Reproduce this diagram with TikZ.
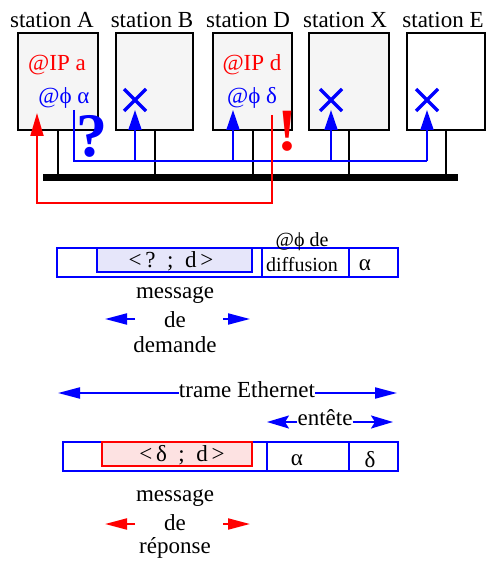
\documentclass[tikz,border=0pt]{standalone}
\usepackage{fontspec}
\setmainfont{Liberation Serif}
\usetikzlibrary{arrows.meta}
\definecolor{boxgray}{HTML}{F5F5F5}
\definecolor{msgblue}{HTML}{E6E6FA}
\definecolor{msgpink}{HTML}{FDE2E2}
\begin{document}
\begin{tikzpicture}[x=1pt,y=-1pt,
  station/.style={draw, line width=2pt, fill=boxgray, minimum height=97pt, inner sep=0pt},
  txt/.style={inner sep=0pt, font=\fontsize{23}{26}\selectfont},
  small/.style={inner sep=0pt, font=\fontsize{20}{22}\selectfont},
  mid/.style={inner sep=0pt, font=\fontsize{23}{26}\selectfont},
  upblue/.style={blue, line width=2pt, -{Triangle[length=20pt,width=13pt]}},
  uplink/.style={line width=2pt},
  cross/.style={blue, line width=3.5pt},
  farrow/.style={line width=2pt, -{Triangle[length=22pt,width=11pt]}},
  harrow/.style={blue, line width=2pt, -{Stealth[length=22pt,width=13pt,inset=4pt]}},
  frame/.style={draw=blue, line width=2pt},
]
\useasboundingbox (0,0) rectangle (486,561);

% stations
\node[station, minimum width=80pt] (A) at (58,81.5) {};
\node[station, minimum width=77pt] (B) at (154.5,81.5) {};
\node[station, minimum width=79pt] (D) at (252.5,81.5) {};
\node[station, minimum width=80pt] (X) at (349,81.5) {};
\node[station, minimum width=78pt, fill=white] (E) at (446,81.5) {};

\node[txt] (tA) at (52,20) {station A};
\node[txt] (tB) at (152,20) {station B};
\node[txt] (tD) at (248,20) {station D};
\node[txt] (tX) at (345,20) {station X};
\node[txt] (tE) at (443,20) {station E};

\node[txt, red] (ipa) at (57,65) {@IP a};
\node[txt, blue] (pha) at (64,98) {@ϕ α};
\node[txt, red] (ipd) at (252,65) {@IP d};
\node[txt, blue] (phd) at (252,98) {@ϕ δ};

% bus
\coordinate (busL) at (43,178);
\coordinate (busR) at (458,178);
\draw[line width=7pt] (busL) -- (busR);
\foreach \s in {A,B,D,X,E}
  \draw[uplink] (\s.south) -- (\s.south |- busL);

% broadcast request
\coordinate (q0) at (74,110);
\coordinate (q1) at (74,161);
\coordinate (qE) at (427,161);
\draw[blue, line width=2pt] (q0) -- (q1) -- (qE);
\foreach \x in {135,233,331,427}
  \draw[upblue] (\x,161) -- (\x,110);
\foreach \x in {135,331,427}
  \draw[cross] (\x-11,89) -- (\x+11,111) (\x-11,111) -- (\x+11,89);
\node[blue, inner sep=0pt, font=\fontsize{62}{64}\selectfont\bfseries] (qm) at (92,136) {?};
\node[red, inner sep=0pt, font=\fontsize{60}{62}\selectfont\bfseries] (em) at (287,131) {!};

% unicast reply
\coordinate (r0) at (272,115);
\coordinate (r1) at (272,203);
\coordinate (r2) at (37,203);
\coordinate (r3) at (37,113);
\draw[red, line width=2pt, -{Triangle[length=23pt,width=13pt]}] (r0) -- (r1) -- (r2) -- (r3);

% request frame
\node[frame, minimum width=341pt, minimum height=29pt, inner sep=0pt] (f1) at (227.5,262.5) {};
\node[draw=blue, line width=1.5pt, fill=msgblue, minimum width=155pt, minimum height=24pt, inner sep=0pt] (m1) at (174.5,260) {};
\draw[blue, line width=2pt] (262,248) -- (262,277) (349,248) -- (349,277);
\node[mid] (m1t) at (171,261) {<\,?\ \ ;\ \ d\,>};
\node[small] (bc1) at (302,242) {@ϕ de};
\node[small] (bc2) at (302,265) {diffusion};
\node[mid] (al1) at (365,265) {α};

\node[txt] (dm1) at (175,295) {message};
\node[txt] (dm2) at (175,320) {de};
\node[txt] (dm3) at (175,345) {demande};
\coordinate (dmL) at (105,319);
\coordinate (dmR) at (250,319);
\draw[blue, farrow] (135,319) -- (dmL);
\draw[blue, farrow] (223,319) -- (dmR);

% frame legend
\node[txt] (tr) at (247,390) {trame Ethernet};
\coordinate (trL) at (58,393);
\coordinate (trR) at (397,393);
\draw[blue, farrow] (trL -| tr.west) -- (trL);
\draw[blue, farrow] (trR -| tr.east) -- (trR);
\node[txt] (en) at (325,418) {entête};
\coordinate (enL) at (267,422);
\coordinate (enR) at (393,422);
\draw[harrow] (enL -| en.west) -- (enL);
\draw[harrow] (enR -| en.east) -- (enR);

% reply frame
\node[frame, minimum width=335pt, minimum height=29pt, inner sep=0pt] (f2) at (230.5,456.5) {};
\node[draw=red, line width=2pt, fill=msgpink, minimum width=150pt, minimum height=24pt, inner sep=0pt] (m2) at (177,454) {};
\draw[blue, line width=2pt] (267,442) -- (267,471) (349,442) -- (349,471);
\node[mid] (m2t) at (182,455) {<\,δ\ \ ;\ \ d\,>};
\node[mid] (al2) at (297,460) {α};
\node[mid] (de2) at (370,460) {δ};

\node[txt] (rp1) at (175,498) {message};
\node[txt] (rp2) at (175,523) {de};
\node[txt] (rp3) at (175,548) {réponse};
\coordinate (rpL) at (105,524);
\coordinate (rpR) at (250,524);
\draw[red, farrow] (135,524) -- (rpL);
\draw[red, farrow] (223,524) -- (rpR);
\end{tikzpicture}
\end{document}
